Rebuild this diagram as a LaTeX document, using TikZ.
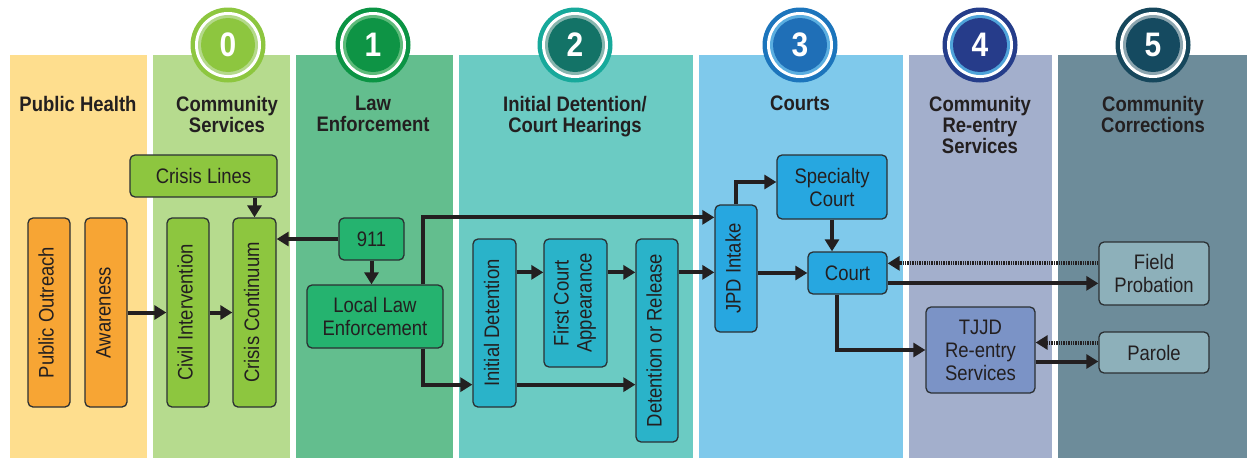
\documentclass[tikz,border=0pt]{standalone}
\usepackage{fontspec}
\setmainfont{Liberation Sans}[FakeStretch=0.88]
\usetikzlibrary{arrows.meta,calc}
\definecolor{txt}{HTML}{231F20}
\definecolor{colPH}{HTML}{FEDE8E}
\definecolor{colCS}{HTML}{B6DB8E}
\definecolor{colLE}{HTML}{63BE8E}
\definecolor{colID}{HTML}{6BCBC3}
\definecolor{colCO}{HTML}{7FC9EB}
\definecolor{colRE}{HTML}{A3AFCC}
\definecolor{colCC}{HTML}{6D8C9A}
\definecolor{bxOrange}{HTML}{F7A534}
\definecolor{bxGreen}{HTML}{8DC63F}
\definecolor{bxLE}{HTML}{25B36F}
\definecolor{bxTeal}{HTML}{2AB3C9}
\definecolor{bxBlue}{HTML}{27A7E0}
\definecolor{bxTJJD}{HTML}{7B93C6}
\definecolor{bxCC}{HTML}{8DB0BA}
\definecolor{bxLine}{HTML}{2B3033}
% circle colours
\definecolor{oA}{HTML}{8DC63F}\definecolor{lA}{HTML}{B4D98A}\definecolor{dA}{HTML}{8DC63F}
\definecolor{oB}{HTML}{0B9444}\definecolor{lB}{HTML}{5DBB7A}\definecolor{dB}{HTML}{0E9445}
\definecolor{oC}{HTML}{17A99B}\definecolor{lC}{HTML}{86B5AE}\definecolor{dC}{HTML}{137367}
\definecolor{oD}{HTML}{1C75BC}\definecolor{lD}{HTML}{5AAEE0}\definecolor{dD}{HTML}{1F6FB7}
\definecolor{oE}{HTML}{253D8A}\definecolor{lE}{HTML}{4FA3D9}\definecolor{dE}{HTML}{263C8A}
\definecolor{oF}{HTML}{16475C}\definecolor{lF}{HTML}{8CA5AF}\definecolor{dF}{HTML}{154A60}
\newcommand{\boxfont}{\fontsize{21}{23}\selectfont}
\newcommand{\headfont}{\fontsize{21}{21}\selectfont\bfseries}
\newcommand{\numfont}{\fontsize{34}{34}\selectfont\bfseries}
\newcommand{\rot}[1]{\rotatebox{90}{\begin{tabular}{@{}c@{}}#1\end{tabular}}}
\begin{document}
\begin{tikzpicture}[x=1pt,y=-1pt,
  box/.style={draw=bxLine, line width=1.3pt, rounded corners=5pt, inner sep=0pt,
    align=center, font=\boxfont, text=txt},
  head/.style={anchor=north, inner sep=0pt, align=center, font=\headfont, text=txt},
  num/.style={inner sep=0pt, font=\numfont, text=white},
  arr/.style={draw=txt, line width=4pt, -{Triangle[length=12pt,width=14pt]}},
  dotarr/.style={draw=txt, line width=4pt, dash pattern=on 1.4pt off 1pt,
    -{Triangle[length=12pt,width=14pt]}}]
\useasboundingbox (0,0) rectangle (1247,458);
\fill[white] (0,0) rectangle (1247,458);
% columns
\fill[colPH] (10,55) rectangle (147,458);
\fill[colCS] (153,55) rectangle (290,458);
\fill[colLE] (296,55) rectangle (453,458);
\fill[colID] (459,55) rectangle (693,458);
\fill[colCO] (699,55) rectangle (903,458);
\fill[colRE] (909,55) rectangle (1052,458);
\fill[colCC] (1058,55) rectangle (1247,458);
% circles
\foreach \cx/\o/\l/\d/\n in {228/oA/lA/dA/0, 373/oB/lB/dB/1, 575/oC/lC/dC/2,
    800/oD/lD/dD/3, 980/oE/lE/dE/4, 1153/oF/lF/dF/5}{
  \fill[\o] (\cx,45) circle[radius=37.5pt];
  \fill[white] (\cx,45) circle[radius=33pt];
  \fill[\l] (\cx,45) circle[radius=30pt];
  \fill[\d] (\cx,45) circle[radius=27pt];
  \node[num] (num\n) at (\cx,45) {\n};
}
% headers
\node[head] (hPH) at (78,96) {Public Health};
\node[head] (hCS) at (227,96) {Community\\Services};
\node[head] (hLE) at (373,96) {Law\\Enforcement};
\node[head] (hID) at (575,96) {Initial Detention/\\Court Hearings};
\node[head] (hCO) at (800,96) {Courts};
\node[head] (hRE) at (980,96) {Community\\Re-entry\\Services};
\node[head] (hCC) at (1153,96) {Community\\Corrections};
% boxes
\node[box, fill=bxGreen, minimum width=147pt, minimum height=42pt] (lines) at (203.5,176) {Crisis Lines};
\node[box, fill=bxOrange, minimum width=42pt, minimum height=189pt] (outreach) at (49,312.5) {\rot{Public Outreach}};
\node[box, fill=bxOrange, minimum width=42pt, minimum height=189pt] (aware) at (106,312.5) {\rot{Awareness}};
\node[box, fill=bxGreen, minimum width=42pt, minimum height=189pt] (civil) at (188,312.5) {\rot{Civil Intervention}};
\node[box, fill=bxGreen, minimum width=43pt, minimum height=189pt] (cont) at (254.5,312.5) {\rot{Crisis Continuum}};
\node[box, fill=bxLE, minimum width=65pt, minimum height=42pt] (n911) at (371.5,239) {911};
\node[box, fill=bxLE, minimum width=136pt, minimum height=63pt] (lle) at (375,316.5) {Local Law\\Enforcement};
\node[box, fill=bxTeal, minimum width=43pt, minimum height=168pt] (initdet) at (494.5,323) {\rot{Initial Detention}};
\node[box, fill=bxTeal, minimum width=63pt, minimum height=128pt] (fca) at (575.5,303) {\rot{First Court\\Appearance}};
\node[box, fill=bxTeal, minimum width=42pt, minimum height=203pt] (dor) at (657,340.5) {\rot{Detention or Release}};
\node[box, fill=bxBlue, minimum width=42pt, minimum height=127pt] (jpd) at (736,268.5) {\rot{JPD Intake}};
\node[box, fill=bxBlue, minimum width=110pt, minimum height=64pt] (spec) at (832,187) {Specialty\\Court};
\node[box, fill=bxBlue, minimum width=79pt, minimum height=42pt] (court) at (847.5,273) {Court};
\node[box, fill=bxCC, minimum width=110pt, minimum height=63pt] (fp) at (1154,273.5) {Field\\Probation};
\node[box, fill=bxCC, minimum width=110pt, minimum height=41pt] (parole) at (1154,352.5) {Parole};
\node[box, fill=bxTJJD, minimum width=109pt, minimum height=86pt] (tjjd) at (980.5,350) {TJJD\\Re-entry\\Services};
% helper coordinates
\coordinate (a1) at ($(lle.north)+(48,0)$);
\coordinate (a2) at ($(jpd.north west)+(0,13)$);
\coordinate (b1) at ($(lle.south)+(48,0)$);
\coordinate (b2) at ($(initdet.south west)+(0,-23)$);
\coordinate (c1) at ($(initdet.north east)+(0,34)$);
\coordinate (c2) at ($(fca.north east)+(0,34)$);
\coordinate (c3) at ($(dor.north east)+(0,34)$);
\coordinate (d1) at ($(initdet.south east)+(0,-23)$);
\coordinate (e1) at ($(spec.west)+(0,-5)$);
\coordinate (f1) at ($(fp.north west)+(0,22)$);
\coordinate (f2) at ($(court.north east)+(0,32)$);
\coordinate (g1) at ($(court.south)+(-11,0)$);
\coordinate (h1) at ($(parole.west)+(0,-10)$);
\coordinate (h2) at ($(parole.west)+(0,9)$);
% connectors
\draw[arr] (aware.east) -- (civil.west);
\draw[arr] (civil.east) -- (cont.west);
\draw[arr] (lines.south -| cont.north) -- (cont.north);
\draw[arr] (n911.west) -- (n911.west -| cont.east);
\draw[arr] (n911.south) -- (n911.south |- lle.north);
\draw[arr] (a1) |- (a2);
\draw[arr] (b1) |- (b2);
\draw[arr] (c1) -- (c1 -| fca.west);
\draw[arr] (c2) -- (c2 -| dor.west);
\draw[arr] (d1) -- (d1 -| dor.west);
\draw[arr] (c3) -- (c3 -| jpd.west);
\draw[arr] (court.west -| jpd.east) -- (court.west);
\draw[arr] (jpd.north) |- (e1);
\draw[arr] (spec.south) -- (spec.south |- court.north);
\draw[dotarr] (f1) -- (f1 -| court.east);
\draw[arr] (f2) -- (f2 -| fp.west);
\draw[arr] (g1) |- (tjjd.west);
\draw[dotarr] (h1) -- (h1 -| tjjd.east);
\draw[arr] (h2 -| tjjd.east) -- (h2);
\end{tikzpicture}
\end{document}
